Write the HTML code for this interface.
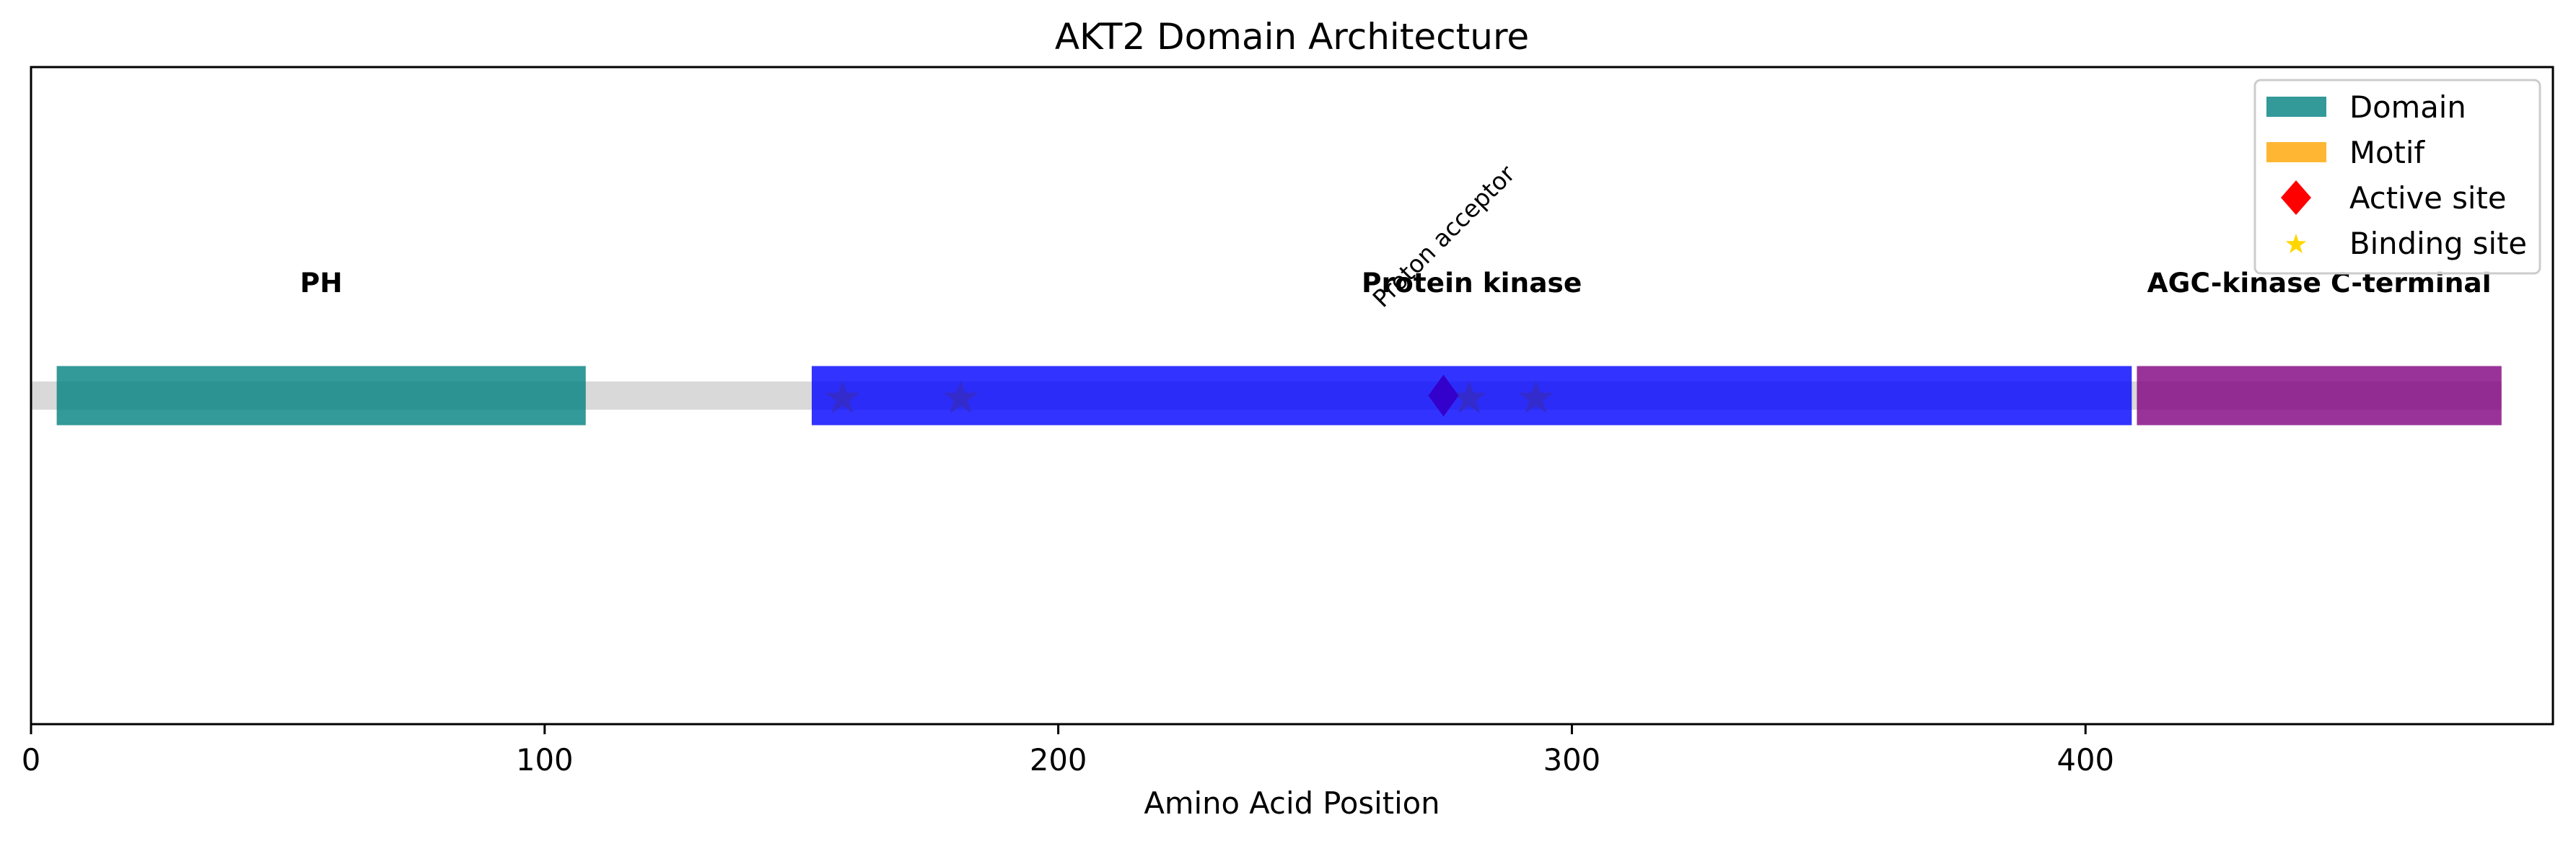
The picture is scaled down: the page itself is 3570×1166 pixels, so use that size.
<!DOCTYPE html>
<html><head><meta charset="utf-8"><style>
html,body{margin:0;padding:0;background:#fff;}
svg{display:block;font-family:"DejaVu Sans","Liberation Sans",sans-serif;}
</style></head><body>
<svg id="chart" width="3570" height="1166" viewBox="0 0 3570 1166" xmlns="http://www.w3.org/2000/svg"></svg>
<script>
const domainNames = ["PH", "Protein kinase", "AGC-kinase C-terminal"];
const domainStarts = [5, 152, 410];
const domainEnds = [108, 409, 481];
const domainColors = ["#008080", "#0000ff", "#800080"];
const activeSites = [275];
const activeLabels = ["Proton acceptor"];
const bindingSites = [158, 181, 280, 293];
const xTicks = [0, 100, 200, 300, 400];
const proteinLength = 481;
const xMax = 491;

const NS = "http://www.w3.org/2000/svg";
const svg = document.getElementById("chart");
const L = 43, R = 3538, T = 93, B = 1004;
const x = v => L + (v / xMax) * (R - L);
const y = v => (T + B) / 2 - v * (B - T) / 2;

function mk(tag, attrs, parent) {
  const e = document.createElementNS(NS, tag);
  for (const k in attrs) e.setAttribute(k, attrs[k]);
  (parent || svg).appendChild(e);
  return e;
}

const title = mk("text", {x: (L + R) / 2, y: 68, "text-anchor": "middle", "font-size": 50});
title.textContent = "AKT2 Domain Architecture";



const bb = mk("rect", {x: x(0), y: y(0.043), width: x(proteinLength) - x(0), height: y(-0.043) - y(0.043), fill: "#d9d9d9"});



function starPath(cx, cy, r) {
  let d = "";
  for (let i = 0; i < 10; i++) {
    const rr = i % 2 === 0 ? r : r * 0.4;
    const a = -Math.PI / 2 + i * Math.PI / 5;
    d += (i ? "L" : "M") + (cx + rr * Math.cos(a)).toFixed(1) + " " + (cy + rr * Math.sin(a)).toFixed(1);
  }
  return d + "Z";
}
bindingSites.forEach((p, i) => {
  const s = mk("path", {d: starPath(x(p), y(0) + 4, 25), fill: "#ffd700"});
  
  
});
activeSites.forEach((p, i) => {
  const cx = x(p), cy = y(0);
  const d = mk("path", {d: `M${cx} ${cy - 29}L${cx + 21} ${cy}L${cx} ${cy + 29}L${cx - 21} ${cy}Z`, fill: "#ff0000"});
  
  
  const tx = x(p) - 84, ty = 428;
  const t = mk("text", {x: tx, y: ty, "font-size": 33, transform: `rotate(-45 ${tx} ${ty})`});
  t.textContent = activeLabels[i];
  
  
});

domainNames.forEach((n, i) => {
  const r = mk("rect", {x: x(domainStarts[i]), y: y(0.09), width: x(domainEnds[i]) - x(domainStarts[i]), height: y(-0.09) - y(0.09), fill: domainColors[i], "fill-opacity": 0.8});
  
  
  const t = mk("text", {x: x((domainStarts[i] + domainEnds[i]) / 2), y: 405, "text-anchor": "middle", "font-size": 37.5, "font-weight": "bold"});
  t.textContent = n;
  
  
});

const frame = mk("rect", {x: L, y: T, width: R - L, height: B - T, fill: "none", stroke: "#000", "stroke-width": 3});



xTicks.forEach(v => {
  const ln = mk("line", {x1: x(v), x2: x(v), y1: B, y2: B + 14, stroke: "#000", "stroke-width": 3});
  
  
  const t = mk("text", {x: x(v), y: 1068, "text-anchor": "middle", "font-size": 41.7});
  t.textContent = v;
  
  
});
const xl = mk("text", {x: (L + R) / 2, y: 1128, "text-anchor": "middle", "font-size": 41.7});
xl.textContent = "Amino Acid Position";



const lg = mk("g", {});


mk("rect", {x: 3125, y: 111, width: 395, height: 268, rx: 8, fill: "#fff", "fill-opacity": 0.8, stroke: "#cccccc", "stroke-width": 3}, lg);
const entries = [["Domain", "patch", "#008080"], ["Motif", "patch", "#ffa500"], ["Active site", "diamond", "#ff0000"], ["Binding site", "star", "#ffd700"]];
entries.forEach((e, i) => {
  const cy = 148 + i * 63;
  const g = mk("g", {}, lg);
  
  
  if (e[1] === "patch") mk("rect", {x: 3141, y: cy - 14, width: 83, height: 28, fill: e[2], "fill-opacity": 0.8}, g);
  else if (e[1] === "diamond") mk("path", {d: `M3182 ${cy - 24}L3203 ${cy}L3182 ${cy + 24}L3161 ${cy}Z`, fill: e[2]}, g);
  else mk("path", {d: starPath(3182, cy + 2, 15), fill: e[2]}, g);
  const t = mk("text", {x: 3256, y: cy + 15, "font-size": 41.7}, g);
  t.textContent = e[0];
});
</script>
</body></html>
